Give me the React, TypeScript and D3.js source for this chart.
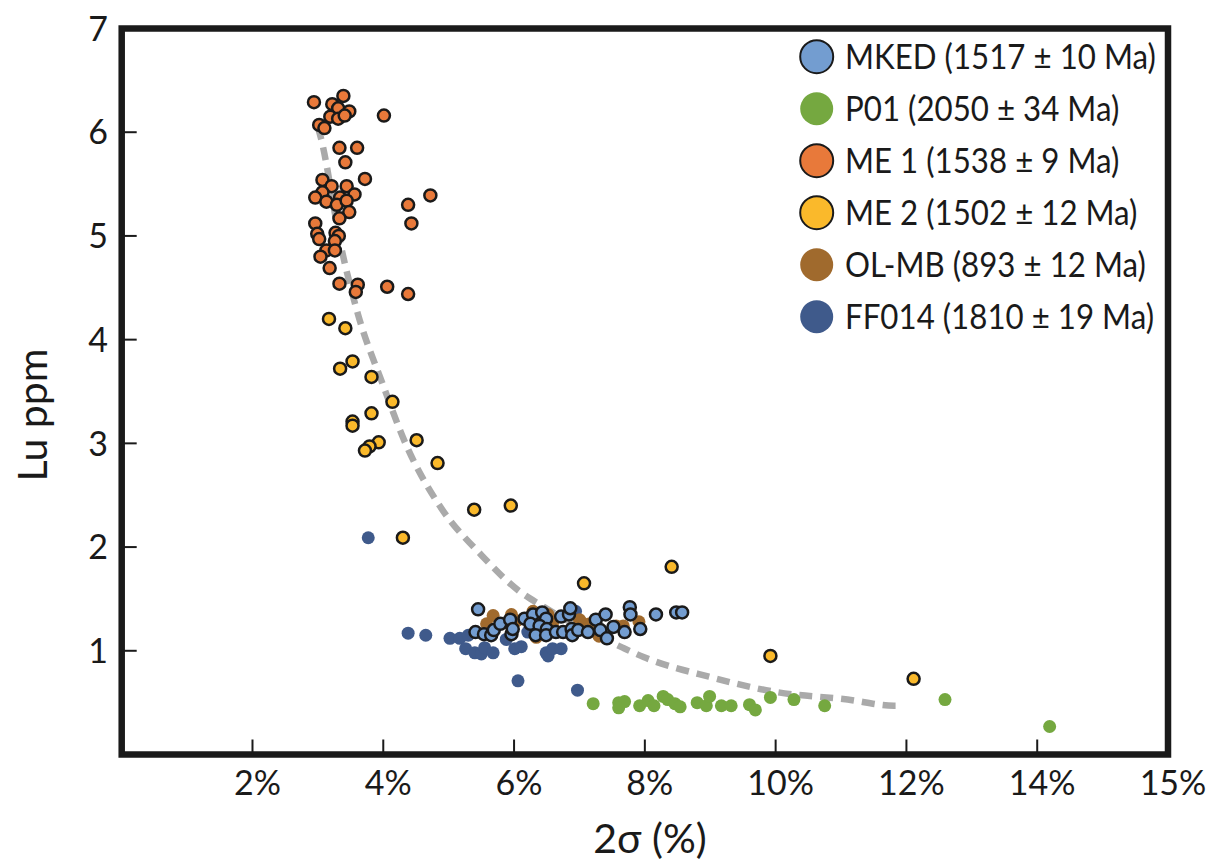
import React, { useEffect, useRef } from 'react'
import * as d3 from 'd3'

// sample series: [2σ %, Lu ppm]
const mked: [number, number][] = [
  [5.45, 1.4], [5.41, 1.18], [5.54, 1.16], [5.65, 1.15], [5.69, 1.2], [5.79, 1.26], [5.94, 1.3],
  [5.96, 1.16], [5.98, 1.21], [6.16, 1.31], [6.29, 1.35], [6.25, 1.26], [6.43, 1.37], [6.49, 1.31],
  [6.39, 1.24], [6.33, 1.15], [6.5, 1.21], [6.49, 1.15], [6.64, 1.18], [6.72, 1.33], [6.84, 1.35],
  [6.86, 1.41], [6.75, 1.18], [6.88, 1.21], [6.89, 1.15], [6.98, 1.2], [7.13, 1.18], [7.25, 1.3],
  [7.32, 1.2], [7.4, 1.35], [7.42, 1.12], [7.52, 1.23], [7.69, 1.18], [7.77, 1.42], [7.78, 1.35],
  [7.93, 1.21], [8.17, 1.35], [8.48, 1.37], [8.57, 1.37],
]
const p01: [number, number][] = [
  [7.21, 0.49], [7.6, 0.5], [7.69, 0.51], [7.6, 0.45], [7.92, 0.47], [8.05, 0.52], [8.14, 0.47],
  [8.28, 0.56], [8.35, 0.53], [8.46, 0.49], [8.54, 0.46], [8.8, 0.5], [8.94, 0.47], [8.99, 0.56],
  [9.17, 0.47], [9.32, 0.47], [9.6, 0.48], [9.69, 0.43], [9.92, 0.55], [10.28, 0.53], [10.75, 0.47],
  [12.59, 0.53], [14.19, 0.27],
]
const me1: [number, number][] = [
  [2.94, 6.29], [3.39, 6.35], [3.22, 6.27], [3.31, 6.23], [3.48, 6.2], [3.19, 6.15], [3.31, 6.13],
  [3.41, 6.16], [4.01, 6.16], [3.02, 6.07], [3.1, 6.04], [3.33, 5.85], [3.6, 5.85], [3.42, 5.71],
  [3.72, 5.55], [3.07, 5.54], [3.21, 5.48], [3.44, 5.48], [3.07, 5.42], [3.56, 5.4], [2.96, 5.37],
  [3.13, 5.33], [3.34, 5.37], [3.29, 5.3], [3.44, 5.34], [3.48, 5.23], [4.72, 5.39], [4.38, 5.3],
  [4.43, 5.12], [3.33, 5.17], [2.96, 5.12], [2.99, 5.02], [3.27, 5.03], [3.32, 5.0], [3.02, 4.97],
  [3.26, 4.95], [3.13, 4.86], [3.26, 4.86], [3.04, 4.8], [3.18, 4.69], [3.33, 4.54], [3.61, 4.53],
  [3.58, 4.46], [4.06, 4.51], [4.38, 4.44],
]
const me2: [number, number][] = [
  [3.17, 4.2], [3.42, 4.11], [3.53, 3.79], [3.34, 3.72], [3.82, 3.64], [4.14, 3.4], [3.82, 3.29],
  [3.53, 3.21], [3.53, 3.17], [4.51, 3.03], [3.93, 3.01], [3.79, 2.97], [3.72, 2.93], [4.83, 2.81],
  [5.39, 2.36], [5.95, 2.4], [4.3, 2.09], [7.07, 1.65], [8.41, 1.81], [9.92, 0.95], [12.11, 0.73],
]
const olmb: [number, number][] = [
  [5.68, 1.34], [5.58, 1.26], [5.96, 1.35], [6.04, 1.29], [5.93, 1.26], [6.29, 1.38], [6.43, 1.32],
  [6.52, 1.35], [6.59, 1.27], [6.34, 1.13], [7.0, 1.3], [7.04, 1.27], [7.16, 1.26], [7.21, 1.19],
  [7.3, 1.14], [7.56, 1.24], [7.67, 1.24], [7.91, 1.28],
]
const ff014: [number, number][] = [
  [3.77, 2.09], [4.38, 1.17], [4.65, 1.15], [5.02, 1.12], [5.17, 1.12], [5.3, 1.15], [5.26, 1.02],
  [5.4, 0.98], [5.5, 0.97], [5.55, 1.03], [5.68, 0.98], [5.88, 1.11], [6.01, 1.02], [6.11, 1.04],
  [6.21, 1.18], [6.49, 0.98], [6.52, 0.95], [6.59, 1.02], [6.72, 1.02], [6.94, 1.38], [6.06, 0.71],
  [6.97, 0.62],
]
// dashed trend
const trend: [number, number][] = [
  [3.0, 6.05], [3.04, 5.96], [3.36, 4.88], [3.62, 4.23], [3.98, 3.59], [4.36, 2.97], [4.86, 2.4],
  [5.52, 1.91], [6.09, 1.57], [6.41, 1.44], [7.66, 1.03], [7.98, 0.94], [8.98, 0.75], [10.03, 0.6],
  [11.1, 0.53], [11.81, 0.47], [11.92, 0.47],
]

const legendLabels = [
  'MKED (1517 ± 10 Ma)',
  'P01 (2050 ± 34 Ma)',
  'ME 1 (1538 ± 9 Ma)',
  'ME 2 (1502 ± 12 Ma)',
  'OL-MB (893 ± 12 Ma)',
  'FF014 (1810 ± 19 Ma)',
]
const colors = ['#739dd0', '#75a840', '#e8793a', '#fab92b', '#a06a2d', '#3f5a8b']
const outlined = [true, false, true, true, false, false]

const xTickValues = [2, 4, 6, 8, 10, 12, 14, 16]
const xTickLabels = ['2%', '4%', '6%', '8%', '10%', '12%', '14%', '15%']
const yTickValues = [1, 2, 3, 4, 5, 6, 7]

const FONT = 'Lato, "Open Sans", sans-serif'

const App = () => {
  const svgRef = useRef<SVGSVGElement>(null)

  useEffect(() => {
    const svg = d3.select(svgRef.current)
    svg.selectAll('*').remove()
    const width = 1211
    const height = 863
    const margin = { top: 28.5, right: 43, bottom: 108.5, left: 121.7 }

    const x = d3.scaleLinear().domain([0, 16]).range([margin.left, width - margin.right])
    const y = d3.scaleLinear().domain([0, 7]).range([height - margin.bottom, margin.top])

    svg.append('rect').attr('width', width).attr('height', height).attr('fill', '#ffffff')

    // dashed trend
    const line = d3
      .line<[number, number]>()
      .x((d) => x(d[0]))
      .y((d) => y(d[1]))
      .curve(d3.curveMonotoneX)
    svg
      .append('path')
      .attr('d', line(trend))
      .attr('fill', 'none')
      .attr('stroke', '#aaaaaa')
      .attr('stroke-width', 6.5)
      .attr('stroke-dasharray', '13 8')

    // draw order: P01, FF014, OL-MB, ME1, ME2, MKED
    const series = [p01, ff014, olmb, me1, me2, mked]
    const idx = [1, 5, 4, 2, 3, 0]
    series.forEach((s, i) => {
      const k = idx[i]
      svg
        .append('g')
        .selectAll('circle')
        .data(s)
        .enter()
        .append('circle')
        .attr('cx', (d) => x(d[0]))
        .attr('cy', (d) => y(d[1]))
        .attr('r', outlined[k] ? 6 : 6.5)
        .attr('fill', colors[k])
        .attr('stroke', outlined[k] ? '#1a1a1a' : 'none')
        .attr('stroke-width', 2.5)
    })

    // frame
    svg
      .append('rect')
      .attr('x', x(0))
      .attr('y', y(7))
      .attr('width', x(16) - x(0))
      .attr('height', y(0) - y(7))
      .attr('fill', 'none')
      .attr('stroke', '#1a1a1a')
      .attr('stroke-width', 6.5)

    // y ticks
    const yt = svg.append('g')
    yt.selectAll('line')
      .data(yTickValues.filter((v) => v < 7))
      .enter()
      .append('line')
      .attr('x1', x(0))
      .attr('x2', x(0) + 15)
      .attr('y1', (d) => y(d))
      .attr('y2', (d) => y(d))
      .attr('stroke', '#1a1a1a')
      .attr('stroke-width', 2)
    yt.selectAll('text')
      .data(yTickValues)
      .enter()
      .append('text')
      .attr('x', 108)
      .attr('y', (d) => y(d))
      .attr('dy', '0.36em')
      .attr('text-anchor', 'end')
      .attr('font-family', FONT)
      .attr('font-size', 34)
      .attr('fill', '#1a1a1a')
      .text((d) => d)

    // x ticks
    const xt = svg.append('g')
    xt.selectAll('line')
      .data(xTickValues.filter((v) => v < 16))
      .enter()
      .append('line')
      .attr('x1', (d) => x(d))
      .attr('x2', (d) => x(d))
      .attr('y1', y(0))
      .attr('y2', y(0) - 15)
      .attr('stroke', '#1a1a1a')
      .attr('stroke-width', 2)
    xt.selectAll('text')
      .data(xTickValues)
      .enter()
      .append('text')
      .attr('x', (d) => x(d) + 5)
      .attr('y', 795)
      .attr('text-anchor', 'middle')
      .attr('font-family', FONT)
      .attr('font-size', 34)
      .attr('fill', '#1a1a1a')
      .text((d, i) => xTickLabels[i])

    // axis titles
    svg
      .append('text')
      .attr('transform', 'translate(47,415) rotate(-90)')
      .attr('text-anchor', 'middle')
      .attr('font-family', FONT)
      .attr('font-size', 41)
      .attr('fill', '#1a1a1a')
      .text('Lu ppm')
    svg
      .append('text')
      .attr('x', 650)
      .attr('y', 853)
      .attr('text-anchor', 'middle')
      .attr('font-family', FONT)
      .attr('font-size', 41)
      .attr('fill', '#1a1a1a')
      .text('2σ (%)')

    // legend
    const lg = svg.append('g')
    legendLabels.forEach((label, i) => {
      const cy = 56.7 + i * 52
      lg.append('circle')
        .attr('cx', 816.7)
        .attr('cy', cy)
        .attr('r', 16.5)
        .attr('fill', colors[i])
        .attr('stroke', outlined[i] ? '#1a1a1a' : 'none')
        .attr('stroke-width', 2)
      lg.append('text')
        .attr('transform', `translate(845,${cy}) scale(0.92,1)`)
        .attr('dy', '0.36em')
        .attr('font-family', FONT)
        .attr('font-size', 34)
        .attr('fill', '#1a1a1a')
        .text(label)
    })
  }, [])

  return (
    <svg
      ref={svgRef}
      width={1211}
      height={863}
      style={{ position: 'absolute', left: 0, top: 0, display: 'block' }}
    ></svg>
  )
}

export default App
